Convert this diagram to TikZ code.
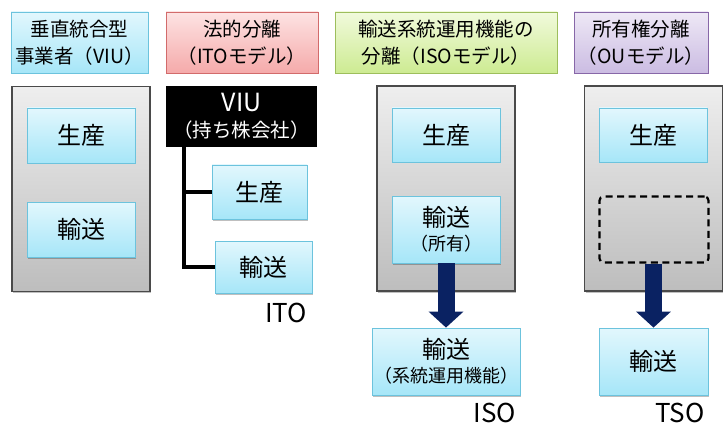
\documentclass[tikz,border=0pt]{standalone}
\usepackage{fontspec}
\setmainfont{Noto Sans CJK JP}
\usetikzlibrary{arrows.meta,shadows}
\definecolor{cyanT}{HTML}{E2F7FD}
\definecolor{cyanB}{HTML}{A6E6F8}
\definecolor{cyanD}{HTML}{6CC3DD}
\definecolor{pinkT}{HTML}{FDE3E3}
\definecolor{pinkB}{HTML}{F5AAAA}
\definecolor{pinkD}{HTML}{D26B6B}
\definecolor{greenT}{HTML}{F1FADC}
\definecolor{greenB}{HTML}{CDEB92}
\definecolor{greenD}{HTML}{9DBE5C}
\definecolor{purpT}{HTML}{EEE8F6}
\definecolor{purpB}{HTML}{CBBCE2}
\definecolor{purpD}{HTML}{8767A8}
\definecolor{grayT}{HTML}{EEEEEE}
\definecolor{grayB}{HTML}{BDBDBD}
\definecolor{grayD}{HTML}{4A4A4A}
\definecolor{navy}{HTML}{0A2262}
\tikzset{
  shad/.style={drop shadow={shadow xshift=1.2pt,shadow yshift=-1.5pt,opacity=0.25,fill=black}},
  hdr/.style={draw=#1D, top color=#1T, bottom color=#1B, line width=0.9pt,
    minimum height=61pt, inner sep=0pt, align=center, shad,
    font=\fontsize{19.5}{27}\selectfont},
  graybox/.style={draw=grayD, top color=grayT, bottom color=grayB, line width=1.1pt,
    minimum width=138pt, minimum height=205pt, inner sep=0pt, shad},
  bluebox/.style={draw=cyanD, top color=cyanT, bottom color=cyanB, line width=0.8pt,
    inner sep=0pt, align=center, shad, font=\fontsize{24}{28}\selectfont},
  fat/.style={draw=navy, line width=17pt, -{Triangle[width=34pt,length=16pt]}},
  tree/.style={draw=black, line width=3.8pt, line join=miter},
  lbl/.style={inner sep=0pt, font=\fontsize{26}{30}\selectfont},
}
\newcommand{\subtxt}[1]{{\fontsize{18}{22}\selectfont #1}}
\begin{document}
\begin{tikzpicture}[x=1pt,y=-1pt]
\useasboundingbox (0,0) rectangle (723,425);
% headers
\node[hdr=cyan, minimum width=137pt] (h1) at (79.5,42.5) {垂直統合型\\事業者（VIU）};
\node[hdr=pink, minimum width=152pt] (h2) at (242,42.5) {法的分離\\（ITOモデル）};
\node[hdr=green, minimum width=222pt] (h3) at (446,42.5) {輸送系統運用機能の\\分離（ISOモデル）};
\node[hdr=purp, minimum width=134pt] (h4) at (641,42.5) {所有権分離\\（OUモデル）};
% column 1
\node[graybox] (g1) at (81,189) {};
\node[bluebox, minimum width=108pt, minimum height=55pt] (p1) at (81,135.5) {生産};
\node[bluebox, minimum width=108pt, minimum height=55pt] (t1) at (81,229.5) {輸送};
% column 2
\node[fill=black, text=white, minimum width=151pt, minimum height=61pt, inner sep=0pt,
  align=center, font=\fontsize{25}{28}\selectfont] (viu) at (241.5,116.5)
  {VIU\\[-2pt]{\fontsize{19.5}{22}\selectfont （持ち株会社）}};
\node[bluebox, minimum width=95pt, minimum height=54pt] (p2) at (259.5,192) {生産};
\node[bluebox, minimum width=97pt, minimum height=52pt] (t2) at (263.5,267) {輸送};
\coordinate (tx) at (184,0);
\draw[tree] (tx |- viu.south) |- (t2.west);
\draw[tree] (tx |- p2.west) -- (p2.west);
\node[lbl] (ito) at (286,313) {ITO};
% column 3
\node[graybox] (g3) at (446,188.5) {};
\node[bluebox, minimum width=108pt, minimum height=54pt] (p3) at (446,135) {生産};
\node[bluebox, minimum width=108pt, minimum height=67pt] (t3) at (446,229.5)
  {輸送\\[-4pt]\subtxt{（所有）}};
\node[bluebox, minimum width=148pt, minimum height=67pt] (s3) at (446,361.5)
  {輸送\\[-4pt]\subtxt{（系統運用機能）}};
\draw[fat] (t3.south) -- (s3.north);
\node[lbl] (iso) at (495,413) {ISO};
% column 4
\node[graybox] (g4) at (653.5,188.5) {};
\node[bluebox, minimum width=108pt, minimum height=54pt] (p4) at (653,135) {生産};
\node[draw=black, line width=2.2pt, dash pattern=on 7pt off 4.5pt, rounded corners=4pt,
  minimum width=109pt, minimum height=66pt, inner sep=0pt] (e4) at (654,229.5) {};
\node[bluebox, minimum width=109pt, minimum height=67pt] (s4) at (653.5,361.5) {輸送};
\draw[fat] (e4.south -| s4.north) -- (s4.north);
\node[lbl] (tso) at (680,413) {TSO};
\end{tikzpicture}
\end{document}
